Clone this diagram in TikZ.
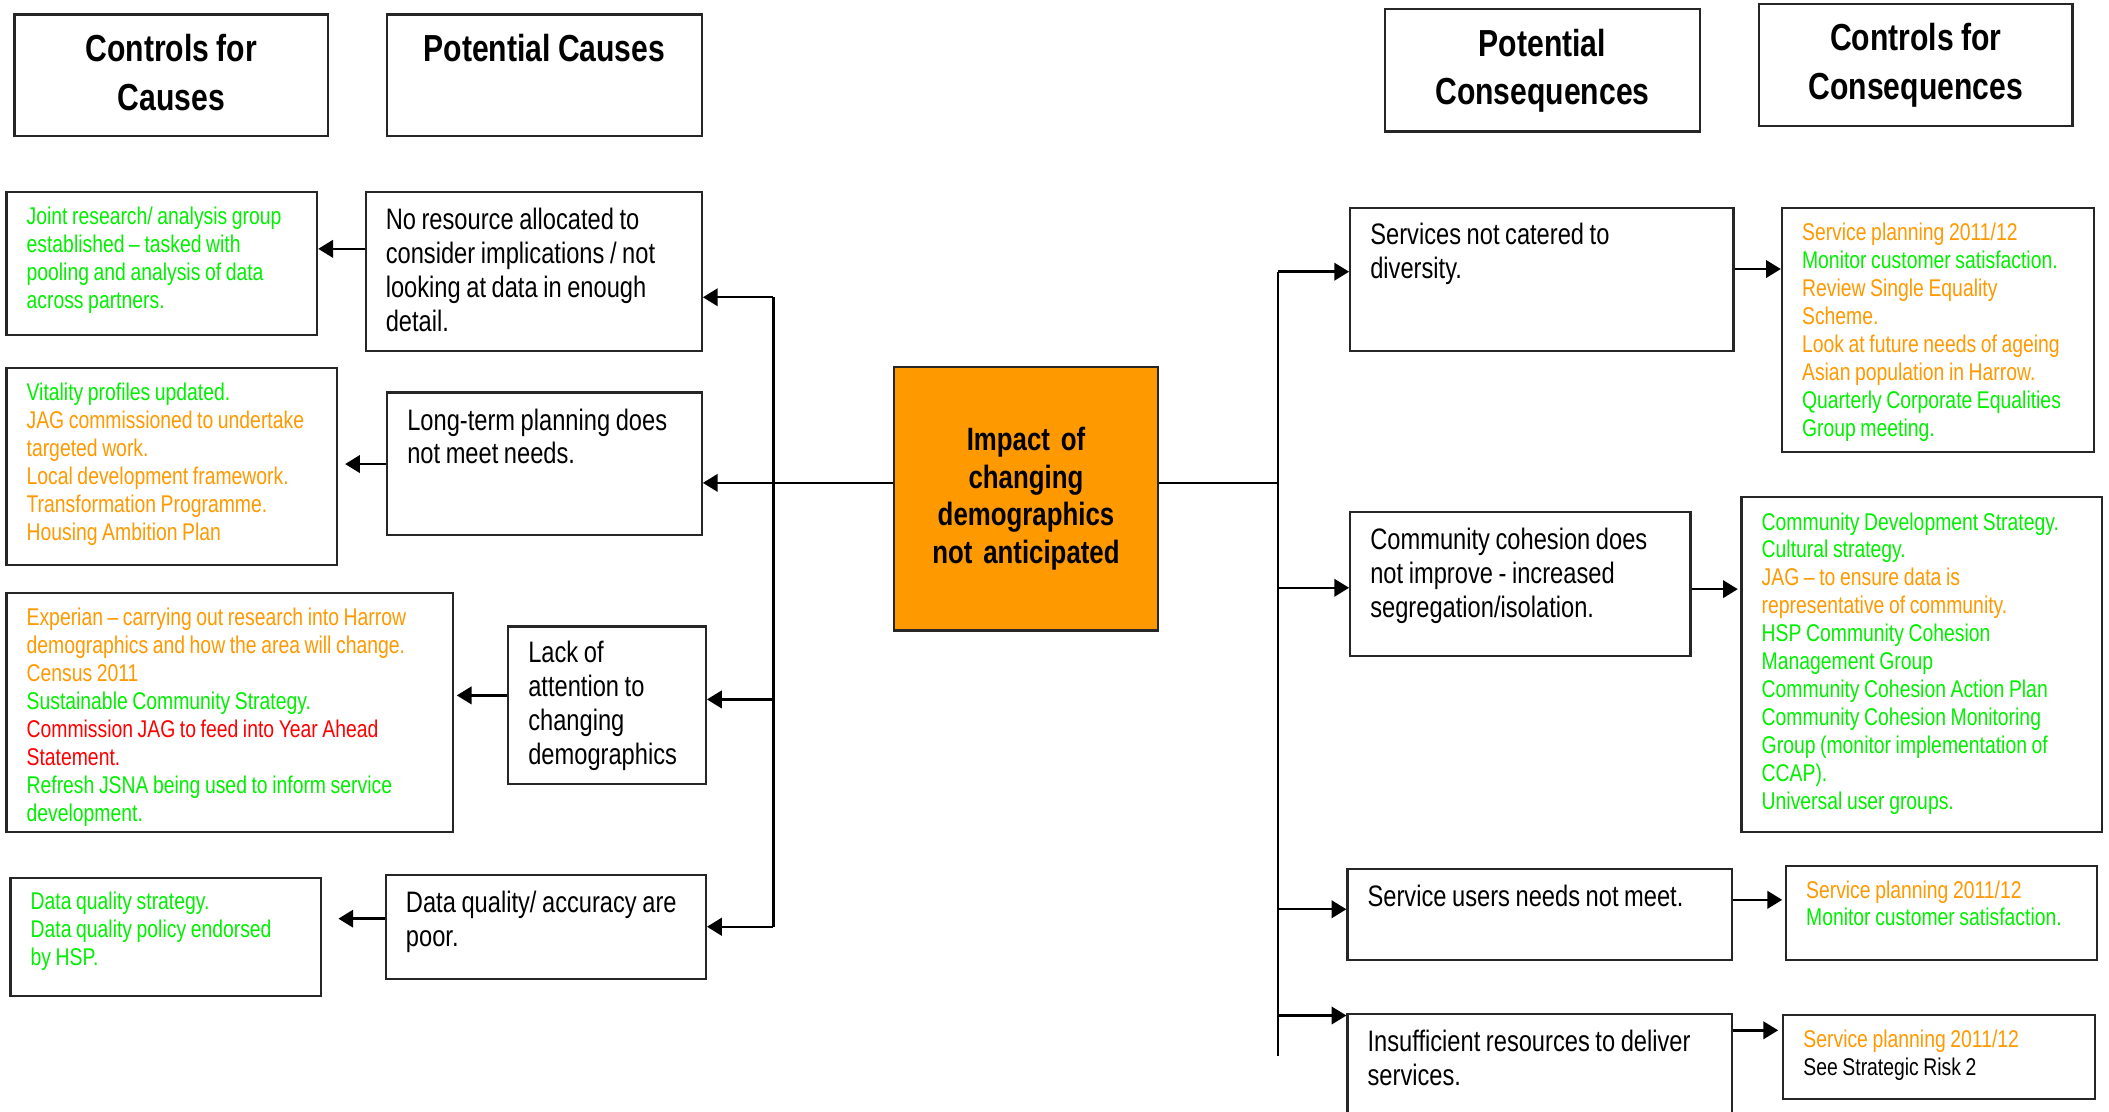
\documentclass[tikz,border=0pt]{standalone}
\usepackage{fontspec}
\setmainfont[FakeStretch=0.8,WordSpace=0.85]{Liberation Sans}
\usetikzlibrary{arrows.meta,calc}
\definecolor{cgreen}{RGB}{0,240,0}
\definecolor{corange}{RGB}{255,153,0}
\definecolor{cred}{RGB}{255,0,0}
\newlength\upx \setlength\upx{0.5pt}
\newlength\padx \setlength\padx{7.5pt}
\newcommand\bodytext{\fontsize{11}{12.6}\selectfont}
\newcommand\ctltext{\fontsize{9}{10.4}\selectfont}
\newcommand\headtext{\fontsize{14}{18}\selectfont\bfseries}
\newcommand\tbox[4]{\parbox[c][#2\upx][t]{\dimexpr#1\upx-2\padx\relax}{\raggedright\vspace*{#3}#4}}
\newcommand\headbox[3]{\parbox[c][#2\upx][t]{\dimexpr#1\upx-2\padx\relax}{\centering\headtext\vspace*{7.4pt}#3}}
\newcommand\GRN[1]{\textcolor{cgreen}{#1}}
\newcommand\ORG[1]{\textcolor{corange}{#1}}
\newcommand\RED[1]{\textcolor{cred}{#1}}
\tikzset{
  box/.style={draw=black!85, line width=0.8pt, inner xsep=\padx, inner ysep=0pt, anchor=north west, fill=white},
  conn/.style={line width=0.9pt},
  arr/.style={conn, -{Triangle[length=5.5pt,width=6.5pt]}}
}
\begin{document}
\begin{tikzpicture}[x=0.5pt,y=-0.5pt]
\useasboundingbox (0,0) rectangle (1568,826);
\clip (0,0) rectangle (1568,826);
% headers
\node[box] (hcc) at (10,10) {\headbox{233}{90}{Controls for\\Causes}};
\node[box] (hpc) at (287,10) {\headbox{234}{90}{Potential Causes}};
\node[box] (hpq) at (1029,6) {\headbox{234}{91}{Potential\\Consequences}};
\node[box] (hcq) at (1307,2) {\headbox{233}{91}{Controls for\\Consequences}};
% left controls
\node[box] (ctrl1) at (4,142) {\tbox{231}{106}{5.6pt}{\ctltext\GRN{Joint research/ analysis group\\established – tasked with\\pooling and analysis of data\\across partners.}}};
\node[box] (ctrl2) at (4,273) {\tbox{246}{146}{5.6pt}{\ctltext\GRN{Vitality profiles updated.}\\\ORG{JAG commissioned to undertake\\targeted work.\\Local development framework.\\Transformation Programme.\\Housing Ambition Plan}}};
\node[box] (ctrl3) at (4,440) {\tbox{332}{178}{5.6pt}{\ctltext\ORG{Experian – carrying out research into Harrow\\demographics and how the area will change.\\Census 2011}\\\GRN{Sustainable Community Strategy.}\\\RED{Commission JAG to feed into Year Ahead\\Statement.}\\\GRN{Refresh JSNA being used to inform service\\development.}}};
\node[box] (ctrl4) at (7,652) {\tbox{231}{88}{5pt}{\ctltext\GRN{Data quality strategy.\\Data quality policy endorsed\\by HSP.}}};
% causes
\node[box] (cause1) at (271,142) {\tbox{250}{118}{6pt}{\bodytext No resource allocated to\\consider implications / not\\looking at data in enough\\detail.}};
\node[box] (cause2) at (287,291) {\tbox{234}{106}{6pt}{\bodytext Long-term planning does\\not meet needs.}};
\node[box] (cause3) at (377,465) {\tbox{147}{117}{5.5pt}{\bodytext Lack of\\attention to\\changing\\demographics}};
\node[box] (cause4) at (286,650) {\tbox{238}{77}{6pt}{\bodytext Data quality/ accuracy are\\poor.}};
% centre
\node[draw=black!85, line width=0.8pt, fill=corange, anchor=north west, minimum width=196\upx, minimum height=196\upx, text width=170\upx, align=center, inner sep=0pt, font=\fontsize{12}{14}\selectfont\bfseries] (center) at (664,272) {Impact of\\changing\\demographics\\not anticipated\par\vspace{4pt}};
% consequences
\node[box] (cons1) at (1003,154) {\tbox{285}{106}{5.5pt}{\bodytext Services not catered to\\diversity.}};
\node[box] (cons2) at (1003,380) {\tbox{253}{107}{6pt}{\bodytext Community cohesion does\\not improve - increased\\segregation/isolation.}};
\node[box] (cons3) at (1001,645) {\tbox{286}{68}{6pt}{\bodytext Service users needs not meet.}};
\node[box] (cons4) at (1001,753) {\tbox{286}{110}{6pt}{\bodytext Insufficient resources to deliver\\services.}};
% consequence controls
\node[box] (ccons1) at (1324,154) {\tbox{232}{181}{5.4pt}{\ctltext\ORG{Service planning 2011/12}\\\GRN{Monitor customer satisfaction.}\\\ORG{Review Single Equality\\Scheme.\\Look at future needs of ageing\\Asian population in Harrow.}\\\GRN{Quarterly Corporate Equalities\\Group meeting.}}};
\node[box] (ccons2) at (1294,369) {\tbox{268}{249}{5.6pt}{\ctltext\GRN{Community Development Strategy.\\Cultural strategy.}\\\ORG{JAG – to ensure data is\\representative of community.}\\\GRN{HSP Community Cohesion\\Management Group\\Community Cohesion Action Plan\\Community Cohesion Monitoring\\Group (monitor implementation of\\CCAP).\\Universal user groups.}}};
\node[box] (ccons3) at (1327,643) {\tbox{231}{70}{5.4pt}{\ctltext\ORG{Service planning 2011/12}\\\GRN{Monitor customer satisfaction.}}};
\node[box] (ccons4) at (1325,754) {\tbox{232}{62}{5.6pt}{\ctltext\ORG{Service planning 2011/12}\\See Strategic Risk 2}};
% left connectors
\coordinate (ltop) at (575,221);
\coordinate (lmid) at (575,359);
\coordinate (l3) at (575,520);
\coordinate (lbot) at (575,689);
\draw[conn] (ltop) -- (lbot);
\draw[conn] (center.west |- lmid) -- (lmid);
\draw[arr] (ltop) -- (cause1.east |- ltop);
\draw[arr] (lmid) -- (cause2.east |- lmid);
\draw[arr] (l3) -- (cause3.east |- l3);
\draw[arr] (lbot) -- (cause4.east |- lbot);
\draw[arr] (cause1.west |- 0,185) -- (ctrl1.east |- 0,185);
\draw[arr, shorten >=2.5pt] (cause2.west |- 0,345) -- (ctrl2.east |- 0,345);
\draw[arr, shorten >=1pt] (cause3.west |- 0,517) -- (ctrl3.east |- 0,517);
\draw[arr, shorten >=6pt] (cause4.west |- 0,683) -- (ctrl4.east |- 0,683);
% right connectors
\coordinate (rtop) at (950,202);
\coordinate (rmid) at (950,359);
\coordinate (r2) at (950,437);
\coordinate (r3) at (950,676);
\coordinate (r4) at (950,755);
\coordinate (rbot) at (950,785);
\draw[conn] (rtop) -- (rbot);
\draw[conn] (center.east |- rmid) -- (rmid);
\draw[arr] (rtop) -- (cons1.west |- rtop);
\draw[arr] (r2) -- (cons2.west |- r2);
\draw[arr] (r3) -- (cons3.west |- r3);
\draw[arr] (r4) -- (cons4.west |- r4);
\draw[arr] (cons1.east |- 0,200) -- (ccons1.west |- 0,200);
\draw[arr, shorten >=1pt] (cons2.east |- 0,438) -- (ccons2.west |- 0,438);
\draw[arr, shorten >=1pt] (cons3.east |- 0,669) -- (ccons3.west |- 0,669);
\draw[arr, shorten >=1.5pt] (cons4.east |- 0,766) -- (ccons4.west |- 0,766);
\end{tikzpicture}
\end{document}
